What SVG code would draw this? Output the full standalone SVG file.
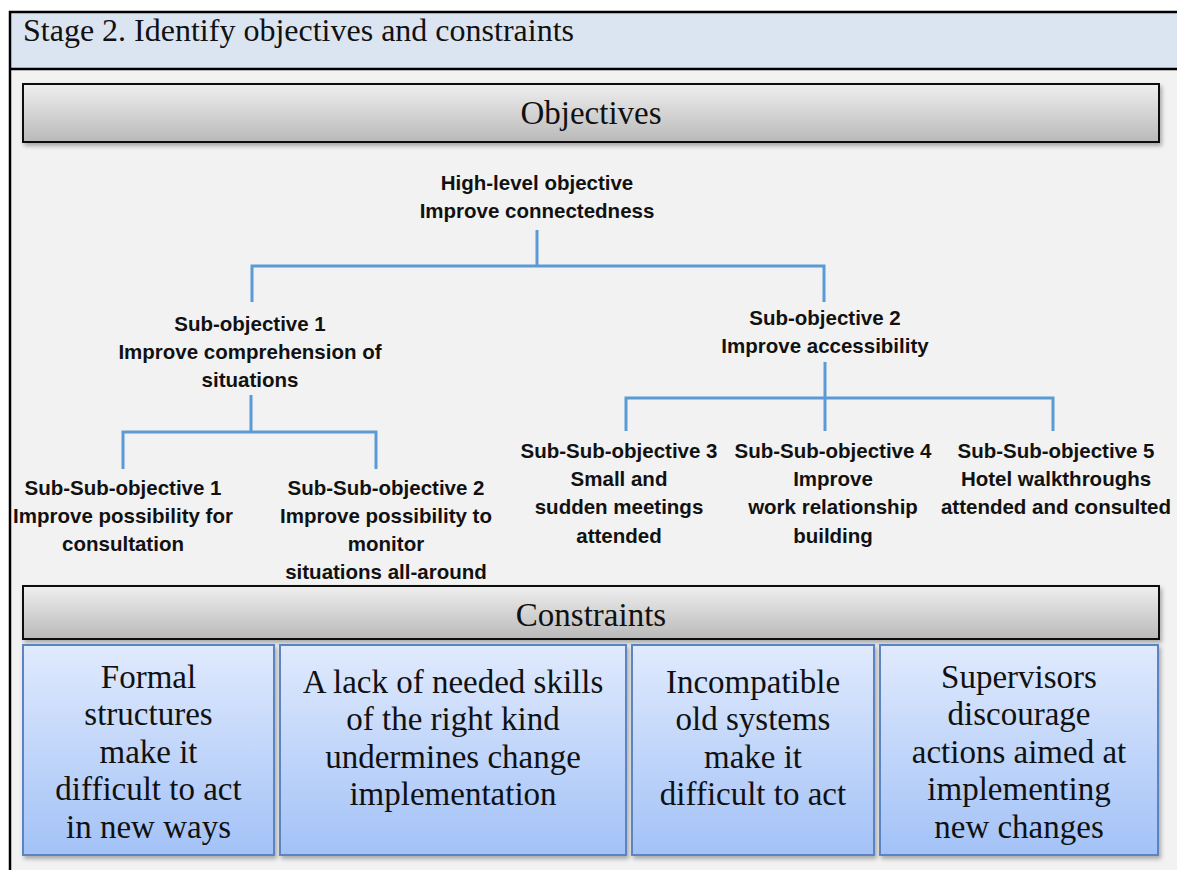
<svg xmlns="http://www.w3.org/2000/svg" width="1177" height="870" viewBox="0 0 1177 870">
<style>
.serif{font-family:"Liberation Serif","Times New Roman",serif;fill:#111}
.title{font-size:32px}
.bar-t{font-size:33px;text-anchor:middle}
.cons{font-size:33px;text-anchor:middle}
.obj{font-family:"Liberation Sans",Arial,sans-serif;font-weight:bold;font-size:20.5px;text-anchor:middle;fill:#111}
.bar{fill:url(#gGray);stroke:#111;stroke-width:2;filter:url(#sh)}
.box{fill:url(#gBlue);stroke:#5a84c2;stroke-width:2;filter:url(#sh)}
.conn{fill:none;stroke:#5b9bd5;stroke-width:3}
</style>
<defs>
<linearGradient id="gGray" x1="0" y1="0" x2="0" y2="1">
<stop offset="0" stop-color="#efefef"/>
<stop offset="1" stop-color="#b9b9b9"/>
</linearGradient>
<linearGradient id="gBlue" x1="0" y1="0" x2="0" y2="1">
<stop offset="0" stop-color="#e0eafd"/>
<stop offset="1" stop-color="#a3c2f7"/>
</linearGradient>
<filter id="sh" x="-5%" y="-10%" width="110%" height="130%">
<feDropShadow dx="2" dy="3" stdDeviation="2" flood-color="#000" flood-opacity="0.3"/>
</filter>
</defs>
<rect x="0" y="0" width="1177" height="870" fill="#ffffff"/>
<g id="frame">
<rect x="10" y="12" width="1180" height="57" fill="#dbe5f1"/>
<rect x="10" y="69" width="1180" height="810" fill="#f2f2f2"/>
<path d="M1177 12 H10 V870" fill="none" stroke="#000" stroke-width="2.5"/>
<line x1="10" y1="69" x2="1177" y2="69" stroke="#000" stroke-width="2.5"/>
<text class="serif title" x="23" y="41">Stage 2. Identify objectives and constraints</text>
</g>
<g id="objectives-bar">
<rect class="bar" x="23" y="84" width="1136" height="58"/>
<text class="serif bar-t" x="591" y="124">Objectives</text>
</g>
<g id="connectors">
<path class="conn" d="M537 230 V266 M252 302 V266 H824 V302"/>
<path class="conn" d="M251 395 V432 M123 469 V432 H376 V469"/>
<path class="conn" d="M825 362 V398 M626 431 V398 H1053 V431 M825 398 V431"/>
</g>
<g id="high-level">
<text class="obj" x="537" y="190">High-level objective</text>
<text class="obj" x="537" y="218">Improve connectedness</text>
</g>
<g id="sub1">
<text class="obj" x="250" y="331">Sub-objective 1</text>
<text class="obj" x="250" y="359">Improve comprehension of</text>
<text class="obj" x="250" y="387">situations</text>
</g>
<g id="sub2">
<text class="obj" x="825" y="325">Sub-objective 2</text>
<text class="obj" x="825" y="353">Improve accessibility</text>
</g>
<g id="ss1">
<text class="obj" x="123" y="495">Sub-Sub-objective 1</text>
<text class="obj" x="123" y="523">Improve possibility for</text>
<text class="obj" x="123" y="551">consultation</text>
</g>
<g id="ss2">
<text class="obj" x="386" y="495">Sub-Sub-objective 2</text>
<text class="obj" x="386" y="523">Improve possibility to</text>
<text class="obj" x="386" y="551">monitor</text>
<text class="obj" x="386" y="579">situations all-around</text>
</g>
<g id="ss3">
<text class="obj" x="619" y="458">Sub-Sub-objective 3</text>
<text class="obj" x="619" y="486">Small and</text>
<text class="obj" x="619" y="514">sudden meetings</text>
<text class="obj" x="619" y="543">attended</text>
</g>
<g id="ss4">
<text class="obj" x="833" y="458">Sub-Sub-objective 4</text>
<text class="obj" x="833" y="486">Improve</text>
<text class="obj" x="833" y="514">work relationship</text>
<text class="obj" x="833" y="543">building</text>
</g>
<g id="ss5">
<text class="obj" x="1056" y="458">Sub-Sub-objective 5</text>
<text class="obj" x="1056" y="486">Hotel walkthroughs</text>
<text class="obj" x="1056" y="514">attended and consulted</text>
</g>
<g id="constraints-bar">
<rect class="bar" x="23" y="586" width="1136" height="53"/>
<text class="serif bar-t" x="591" y="626">Constraints</text>
</g>
<g id="c1">
<rect class="box" x="23" y="645" width="251" height="210"/>
<text class="serif cons" x="148.5" y="688">Formal</text>
<text class="serif cons" x="148.5" y="725">structures</text>
<text class="serif cons" x="148.5" y="763">make it</text>
<text class="serif cons" x="148.5" y="800">difficult to act</text>
<text class="serif cons" x="148.5" y="838">in new ways</text>
</g>
<g id="c2">
<rect class="box" x="280" y="645" width="346" height="210"/>
<text class="serif cons" x="453" y="693">A lack of needed skills</text>
<text class="serif cons" x="453" y="730">of the right kind</text>
<text class="serif cons" x="453" y="768">undermines change</text>
<text class="serif cons" x="453" y="805">implementation</text>
</g>
<g id="c3">
<rect class="box" x="632" y="645" width="242" height="210"/>
<text class="serif cons" x="753" y="693">Incompatible</text>
<text class="serif cons" x="753" y="730">old systems</text>
<text class="serif cons" x="753" y="768">make it</text>
<text class="serif cons" x="753" y="805">difficult to act</text>
</g>
<g id="c4">
<rect class="box" x="880" y="645" width="278" height="210"/>
<text class="serif cons" x="1019" y="688">Supervisors</text>
<text class="serif cons" x="1019" y="725">discourage</text>
<text class="serif cons" x="1019" y="763">actions aimed at</text>
<text class="serif cons" x="1019" y="800">implementing</text>
<text class="serif cons" x="1019" y="838">new changes</text>
</g>
</svg>
